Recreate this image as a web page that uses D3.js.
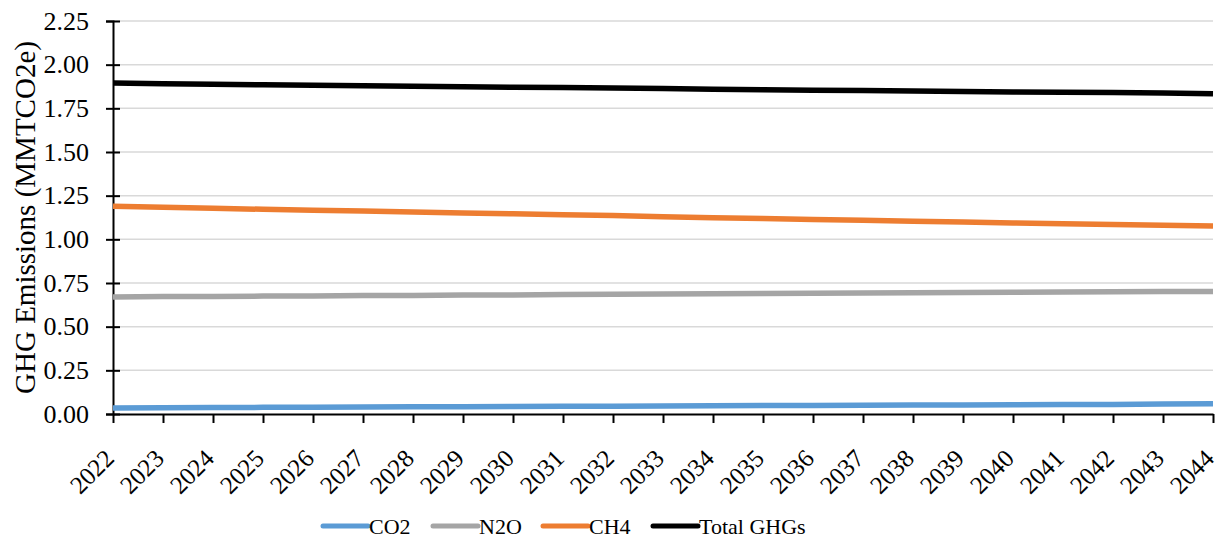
<!DOCTYPE html>
<html lang="en">
<head>
<meta charset="utf-8">
<title>GHG Emissions</title>
<script src="https://cdn.jsdelivr.net/npm/d3@7"></script>
<style>
  body { margin: 0; background: #fff; }
  text { font-family: "Liberation Serif", "Times New Roman", serif; fill: #000; }
</style>
</head>
<body>
<script>
// data
var years = d3.range(2022, 2045);
var co2 = [0.035, 0.036, 0.037, 0.038, 0.039, 0.040, 0.041, 0.042, 0.043, 0.044, 0.045, 0.046,
           0.047, 0.048, 0.049, 0.050, 0.051, 0.052, 0.053, 0.054, 0.055, 0.057, 0.058];
var n2o = [0.670, 0.672, 0.673, 0.675, 0.676, 0.678, 0.679, 0.681, 0.682, 0.684, 0.685, 0.687,
           0.688, 0.690, 0.691, 0.693, 0.694, 0.696, 0.697, 0.699, 0.700, 0.701, 0.702];
var ch4 = [1.190, 1.183, 1.178, 1.172, 1.167, 1.162, 1.157, 1.151, 1.146, 1.141, 1.136, 1.130,
           1.124, 1.119, 1.114, 1.109, 1.104, 1.099, 1.094, 1.089, 1.085, 1.080, 1.076];
var total = [1.895, 1.891, 1.888, 1.885, 1.882, 1.880, 1.877, 1.874, 1.871, 1.869, 1.866, 1.863,
             1.859, 1.857, 1.854, 1.852, 1.849, 1.847, 1.844, 1.842, 1.840, 1.838, 1.834];
var yTicks = [0, 0.25, 0.5, 0.75, 1, 1.25, 1.5, 1.75, 2, 2.25];

var seriesNames = ["CO2", "N2O", "CH4", "Total GHGs"];
var seriesColors = ["#5b9bd5", "#a5a5a5", "#ed7d31", "#000000"];
var seriesValues = [co2, n2o, ch4, total];

var w = 1218, h = 540;
var plotLeft = 113, plotRight = 1213, plotTop = 21, plotBottom = 414;

var svg = d3.select("body").append("svg")
    .attr("width", w)
    .attr("height", h);

var x = d3.scaleLinear().domain([2022, 2044]).range([plotLeft, plotRight]);
var y = d3.scaleLinear().domain([0, 2.25]).range([plotBottom, plotTop]);

// gridlines
svg.append("g")
  .selectAll("line")
  .data(yTicks.filter(function(d) { return d > 0; }))
  .enter().append("line")
    .attr("x1", plotLeft).attr("x2", plotRight)
    .attr("y1", function(d) { return y(d); })
    .attr("y2", function(d) { return y(d); })
    .attr("stroke", "#d9d9d9")
    .attr("stroke-width", 1.5);

// y axis
var yAxis = svg.append("g")
    .attr("transform", "translate(" + plotLeft + ",0)")
    .call(d3.axisLeft(y).tickValues(yTicks).tickFormat(d3.format(".2f")).tickSize(7).tickPadding(10));
yAxis.select(".domain").attr("stroke", "#000").attr("stroke-width", 2);
yAxis.selectAll(".tick line").attr("stroke", "#000").attr("stroke-width", 2).attr("x2", 7).attr("x1", -7);
yAxis.selectAll(".tick text").attr("font-size", "26px").attr("font-family", "Liberation Serif").attr("x", -24);

// x axis
var xAxis = svg.append("g")
    .attr("transform", "translate(0," + plotBottom + ")")
    .call(d3.axisBottom(x).tickValues(years).tickFormat(d3.format("d")).tickSize(9).tickSizeOuter(0));
xAxis.select(".domain").attr("stroke", "#000").attr("stroke-width", 2);
xAxis.selectAll(".tick line").attr("stroke", "#000").attr("stroke-width", 2);
xAxis.selectAll(".tick text")
    .attr("font-size", "25px")
    .attr("font-family", "Liberation Serif")
    .attr("text-anchor", "end")
    .attr("y", 0).attr("dy", 0)
    .attr("transform", "translate(2,46) rotate(-45)");

// lines
var line = d3.line()
    .x(function(d, i) { return x(years[i]); })
    .y(function(d) { return y(d); });

svg.append("g")
  .selectAll("path")
  .data(seriesValues)
  .enter().append("path")
    .attr("d", line)
    .attr("fill", "none")
    .attr("stroke", function(d, i) { return seriesColors[i]; })
    .attr("stroke-width", 5.5)
    .attr("stroke-linejoin", "round");

// y title
svg.append("text")
    .attr("transform", "translate(35," + ((plotTop + plotBottom) / 2) + ") rotate(-90)")
    .attr("text-anchor", "middle")
    .attr("font-size", "29px")
    .text("GHG Emissions (MMTCO2e)");

// legend
var legendX = [323, 433, 543, 653];
var legend = svg.append("g")
  .selectAll("g")
  .data(seriesNames)
  .enter().append("g")
    .attr("transform", function(d, i) { return "translate(" + legendX[i] + ",526)"; });
legend.append("line")
    .attr("x1", 0).attr("x2", 45)
    .attr("stroke", function(d, i) { return seriesColors[i]; })
    .attr("stroke-width", 5)
    .attr("stroke-linecap", "round");
legend.append("text")
    .attr("x", 46)
    .attr("dy", "0.35em")
    .attr("font-size", "22px")
    .text(function(d) { return d; });
</script>
</body>
</html>
